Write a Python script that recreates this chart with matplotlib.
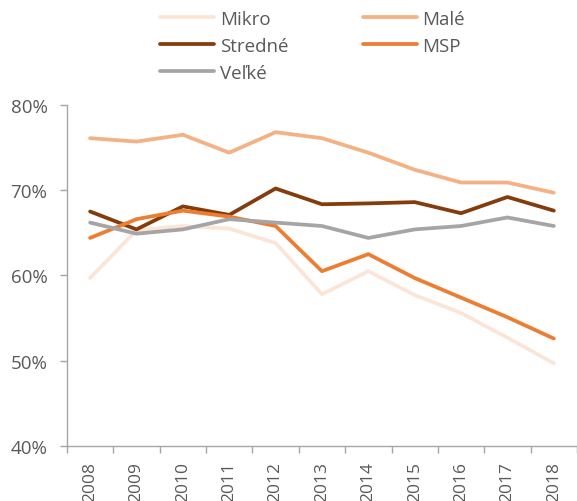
import matplotlib
matplotlib.use("Agg")
import matplotlib.pyplot as plt
from matplotlib.ticker import FixedLocator, FuncFormatter

plt.rcParams['font.family'] = ['Open Sans', 'DejaVu Sans']

years = ["2008", "2009", "2010", "2011", "2012", "2013", "2014", "2015", "2016", "2017", "2018"]
mikro = [59.7, 65.3, 65.8, 65.5, 63.8, 57.8, 60.5, 57.7, 55.6, 52.7, 49.7]
male = [76.1, 75.7, 76.5, 74.4, 76.8, 76.1, 74.4, 72.4, 70.9, 70.9, 69.7]
stredne = [67.5, 65.4, 68.1, 67.1, 70.2, 68.35, 68.45, 68.6, 67.3, 69.2, 67.6]
msp = [64.4, 66.6, 67.6, 66.9, 65.8, 60.5, 62.5, 59.7, 57.4, 55.1, 52.6]
velke = [66.2, 64.9, 65.4, 66.6, 66.2, 65.8, 64.4, 65.4, 65.8, 66.8, 65.8]
y_ticks = [40, 50, 60, 70, 80]

series = [
    ("Mikro", mikro, "#FBE5D6"),
    ("Malé", male, "#F4B183"),
    ("Stredné", stredne, "#843C0C"),
    ("MSP", msp, "#ED7D31"),
    ("Veľké", velke, "#A5A5A5"),
]

fig = plt.figure(figsize=(5.77, 5.02), dpi=100)
ax = fig.add_axes([0.116, 0.1096, 0.884, 0.6794])

x = list(range(len(years)))
handles = {}
for name, vals, col in series:
    (ln,) = ax.plot(x, vals, color=col, lw=2.7, solid_capstyle='round',
                    solid_joinstyle='round', label=name)
    handles[name] = ln

ax.set_xlim(-0.5, len(years) - 0.5)
ax.set_ylim(40, 80)
ax.yaxis.set_major_locator(FixedLocator(y_ticks))
ax.yaxis.set_major_formatter(FuncFormatter(lambda v, p: f"{v:.0f}%"))

ax.set_xticks(x)
ax.set_xticklabels(years, rotation=90, color="#595959", fontsize=12.5)
ax.tick_params(axis='x', which='major', length=0, pad=11)
ax.set_xticks([i - 0.5 for i in range(len(years) + 1)], minor=True)
ax.tick_params(axis='x', which='minor', length=5, width=1, color="#A6A6A6")
ax.tick_params(axis='y', length=5, width=1, color="#A6A6A6", labelcolor="#595959",
               labelsize=13.5, pad=9)

for s in ("top", "right"):
    ax.spines[s].set_visible(False)
for s in ("left", "bottom"):
    ax.spines[s].set_color("#A6A6A6")
    ax.spines[s].set_linewidth(1)

order = ["Mikro", "Stredné", "Veľké", "Malé", "MSP"]
fig.legend([handles[n] for n in order], order, ncol=2, loc='upper left',
           bbox_to_anchor=(160 / 577, 1 - 11 / 502), frameon=False, fontsize=13.5,
           handlelength=2.9, handletextpad=0.3, columnspacing=3.95,
           labelspacing=0.48, labelcolor="#595959", borderaxespad=0, borderpad=0)

fig.savefig("out.png", dpi=100)
